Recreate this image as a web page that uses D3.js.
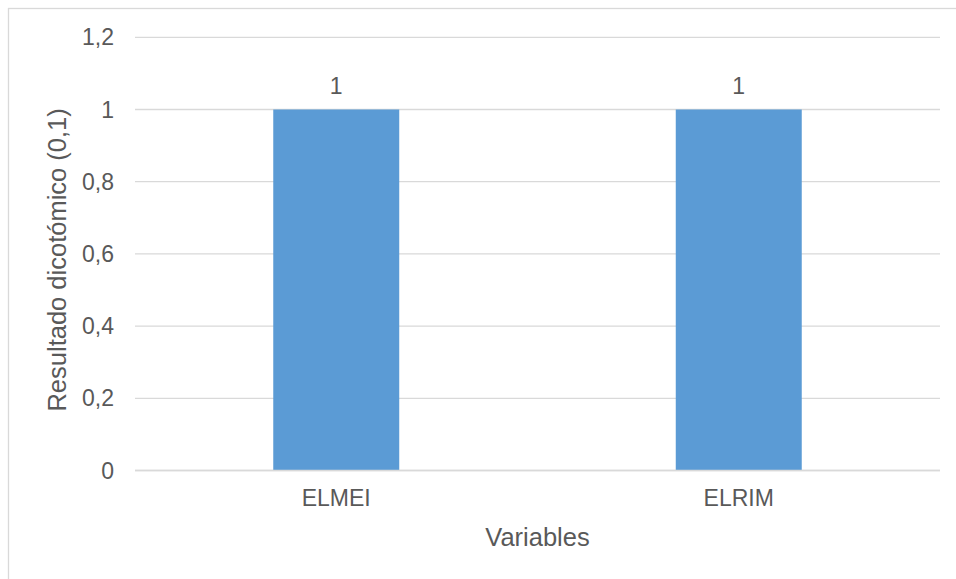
<!DOCTYPE html>
<html>
<head>
<meta charset="utf-8">
<script src="https://cdn.jsdelivr.net/npm/d3@7/dist/d3.min.js"></script>
<style>
  html, body { margin: 0; padding: 0; background: #ffffff; }
  svg { display: block; }
  text { font-family: "Liberation Sans", Arial, sans-serif; fill: #595959; }
</style>
</head>
<body>
<svg id="chart" width="956" height="579"></svg>
<script>
// Chart data
const categories = ["ELMEI", "ELRIM"];
const values = [1, 1];
const yTicks = [0, 0.2, 0.4, 0.6, 0.8, 1, 1.2];
const xTitle = "Variables";
const yTitle = "Resultado dicotómico (0,1)";

const W = 956, H = 579;
const plot = { left: 135, right: 940, top: 37.3, bottom: 470.5 };

const svg = d3.select("#chart");

// Outer chart frame
svg.append("rect")
  .attr("x", 8.5).attr("y", 8.5)
  .attr("width", 1000).attr("height", 1000)
  .attr("fill", "#ffffff")
  .attr("stroke", "#d9d9d9").attr("stroke-width", 1.3);

const x = d3.scaleBand()
  .domain(categories)
  .range([plot.left, plot.right])
  .paddingInner(0.687)
  .paddingOuter(0.3435);

const y = d3.scaleLinear()
  .domain([0, 1.2])
  .range([plot.bottom, plot.top]);

const esLocale = d3.formatLocale({ decimal: ",", thousands: ".", grouping: [3], currency: ["", " €"] });
const fmt = v => esLocale.format("~g")(+v.toFixed(1));

// Horizontal gridlines
svg.append("g")
  .selectAll("line")
  .data(yTicks)
  .join("line")
  .attr("x1", plot.left).attr("x2", plot.right)
  .attr("y1", d => y(d)).attr("y2", d => y(d))
  .attr("stroke", "#d9d9d9").attr("stroke-width", 1.3);

// Y tick labels
svg.append("g")
  .selectAll("text")
  .data(yTicks)
  .join("text")
  .attr("x", plot.left - 21)
  .attr("y", d => y(d))
  .attr("dy", "0.35em")
  .attr("text-anchor", "end")
  .attr("font-size", 23)
  .text(d => fmt(d));

// Bars
svg.append("g")
  .selectAll("rect")
  .data(categories)
  .join("rect")
  .attr("x", d => x(d))
  .attr("width", x.bandwidth())
  .attr("y", (d, i) => y(values[i]))
  .attr("height", (d, i) => y(0) - y(values[i]))
  .attr("fill", "#5b9bd5");

// Redraw baseline over bar bottoms
svg.append("line")
  .attr("x1", plot.left).attr("x2", plot.right)
  .attr("y1", y(0)).attr("y2", y(0))
  .attr("stroke", "#d9d9d9").attr("stroke-width", 1.3);

// Value labels
svg.append("g")
  .selectAll("text")
  .data(categories)
  .join("text")
  .attr("x", d => x(d) + x.bandwidth() / 2)
  .attr("y", (d, i) => y(values[i]) - 24)
  .attr("dy", "0.35em")
  .attr("text-anchor", "middle")
  .attr("font-size", 23)
  .text((d, i) => fmt(values[i]));

// Category labels
svg.append("g")
  .selectAll("text")
  .data(categories)
  .join("text")
  .attr("x", d => x(d) + x.bandwidth() / 2)
  .attr("y", 498)
  .attr("dy", "0.35em")
  .attr("text-anchor", "middle")
  .attr("font-size", 23)
  .text(d => d);

// Axis titles
svg.append("text")
  .attr("x", (plot.left + plot.right) / 2)
  .attr("y", 537)
  .attr("dy", "0.35em")
  .attr("text-anchor", "middle")
  .attr("font-size", 25.5)
  .text(xTitle);

svg.append("text")
  .attr("transform", `translate(57, ${(plot.top + plot.bottom) / 2 + 6}) rotate(-90)`)
  .attr("dy", "0.35em")
  .attr("text-anchor", "middle")
  .attr("font-size", 25.5)
  .text(yTitle);
</script>
</body>
</html>
